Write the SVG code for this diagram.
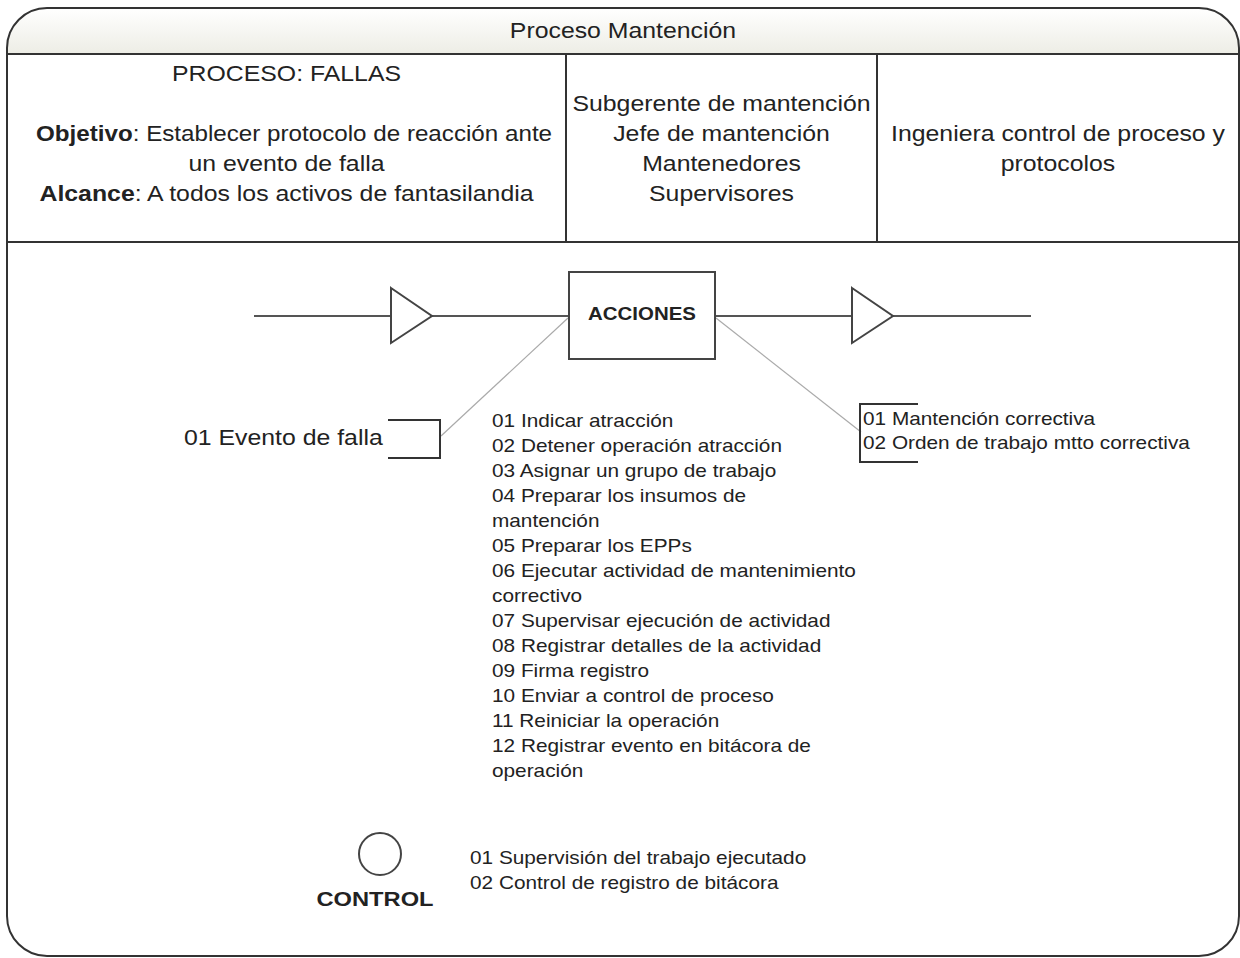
<svg xmlns="http://www.w3.org/2000/svg" width="1240" height="958" viewBox="0 0 1240 958">
<defs>
<linearGradient id="hdr" x1="0" y1="0" x2="0" y2="1">
<stop offset="0" stop-color="#ffffff"/>
<stop offset="1" stop-color="#ededE5"/>
</linearGradient>
<style>
text{font-family:"Liberation Sans",Arial,sans-serif;fill:#222}
.big{font-size:21.5px}
.sm{font-size:18px}
.mid{text-anchor:middle}
.b{font-weight:bold}
.frame{fill:none;stroke:#333;stroke-width:2}
.grid{stroke:#333;stroke-width:2;fill:none}
.flow{stroke:#555;stroke-width:2;fill:none}
.tri{stroke:#444;stroke-width:2;fill:#fff}
.box{stroke:#444;stroke-width:2;fill:#fff}
.link{stroke:#aaa;stroke-width:1.2;fill:none}
.brk{stroke:#333;stroke-width:2;fill:none}
</style>
</defs>
<rect width="1240" height="958" fill="#fff"/>
<g id="frame">
<path d="M7,54 V48 A40,40 0 0 1 47,8 H1199 A40,40 0 0 1 1239,48 V54 Z" fill="url(#hdr)"/>
<rect class="frame" x="7" y="8" width="1232" height="948" rx="40" ry="40"/>
<line class="grid" x1="7" y1="54" x2="1239" y2="54"/>
<line class="grid" x1="7" y1="242" x2="1239" y2="242"/>
<line class="grid" x1="566" y1="54" x2="566" y2="242"/>
<line class="grid" x1="877" y1="54" x2="877" y2="242"/>
</g>
<g id="title">
<text class="big mid" transform="translate(623 38) scale(1.155 1)">Proceso Mantención</text>
</g>
<g id="cell-proceso">
<text class="big mid" transform="translate(286.5 81) scale(1.155 1)">PROCESO: FALLAS</text>
<text class="big mid" transform="translate(294 141) scale(1.125 1)"><tspan class="b">Objetivo</tspan>: Establecer protocolo de reacción ante</text>
<text class="big mid" transform="translate(286.5 171) scale(1.155 1)">un evento de falla</text>
<text class="big mid" transform="translate(286.5 201) scale(1.155 1)"><tspan class="b">Alcance</tspan>: A todos los activos de fantasilandia</text>
</g>
<g id="cell-responsables">
<text class="big mid" transform="translate(721.5 111) scale(1.155 1)">Subgerente de mantención</text>
<text class="big mid" transform="translate(721.5 141) scale(1.155 1)">Jefe de mantención</text>
<text class="big mid" transform="translate(721.5 171) scale(1.155 1)">Mantenedores</text>
<text class="big mid" transform="translate(721.5 201) scale(1.155 1)">Supervisores</text>
</g>
<g id="cell-control">
<text class="big mid" transform="translate(1058 141) scale(1.155 1)">Ingeniera control de proceso y</text>
<text class="big mid" transform="translate(1058 171) scale(1.155 1)">protocolos</text>
</g>
<g id="connectors">
<line class="flow" x1="254" y1="316" x2="391" y2="316"/>
<line class="flow" x1="432" y1="316" x2="569" y2="316"/>
<line class="flow" x1="715" y1="316" x2="852" y2="316"/>
<line class="flow" x1="893" y1="316" x2="1031" y2="316"/>
<polygon class="tri" points="391,288 432,316 391,343"/>
<polygon class="tri" points="852,288 893,316 852,343"/>
<line class="link" x1="568" y1="318" x2="441" y2="436"/>
<line class="link" x1="716" y1="318" x2="861" y2="432"/>
</g>
<g id="acciones">
<rect class="box" x="569" y="272" width="146" height="87"/>
<text class="mid b" style="font-size:17.7px" transform="translate(642 320) scale(1.155 1)">ACCIONES</text>
<text class="sm" transform="translate(492 427) scale(1.155 1)"><tspan x="0" y="0">01 Indicar atracción</tspan><tspan x="0" dy="25">02 Detener operación atracción</tspan><tspan x="0" dy="25">03 Asignar un grupo de trabajo</tspan><tspan x="0" dy="25">04 Preparar los insumos de</tspan><tspan x="0" dy="25">mantención</tspan><tspan x="0" dy="25">05 Preparar los EPPs</tspan><tspan x="0" dy="25">06 Ejecutar actividad de mantenimiento</tspan><tspan x="0" dy="25">correctivo</tspan><tspan x="0" dy="25">07 Supervisar ejecución de actividad</tspan><tspan x="0" dy="25">08 Registrar detalles de la actividad</tspan><tspan x="0" dy="25">09 Firma registro</tspan><tspan x="0" dy="25">10 Enviar a control de proceso</tspan><tspan x="0" dy="25">11 Reiniciar la operación</tspan><tspan x="0" dy="25">12 Registrar evento en bitácora de</tspan><tspan x="0" dy="25">operación</tspan></text>
</g>
<g id="entrada">
<polyline class="brk" points="388,420 440,420 440,458 388,458"/>
<text class="big" transform="translate(184 445) scale(1.155 1)">01 Evento de falla</text>
</g>
<g id="salida">
<polyline class="brk" points="918,404 860,404 860,462 918,462"/>
<text class="sm" transform="translate(863 425) scale(1.155 1)"><tspan x="0" y="0">01 Mantención correctiva</tspan><tspan x="0" dy="24">02 Orden de trabajo mtto correctiva</tspan></text>
</g>
<g id="control">
<circle cx="380" cy="854" r="21" fill="#fff" stroke="#444" stroke-width="2"/>
<text class="mid b" style="font-size:20.5px" transform="translate(375 906) scale(1.155 1)">CONTROL</text>
<text class="sm" transform="translate(470 864) scale(1.155 1)"><tspan x="0" y="0">01 Supervisión del trabajo ejecutado</tspan><tspan x="0" dy="25">02 Control de registro de bitácora</tspan></text>
</g>
</svg>
